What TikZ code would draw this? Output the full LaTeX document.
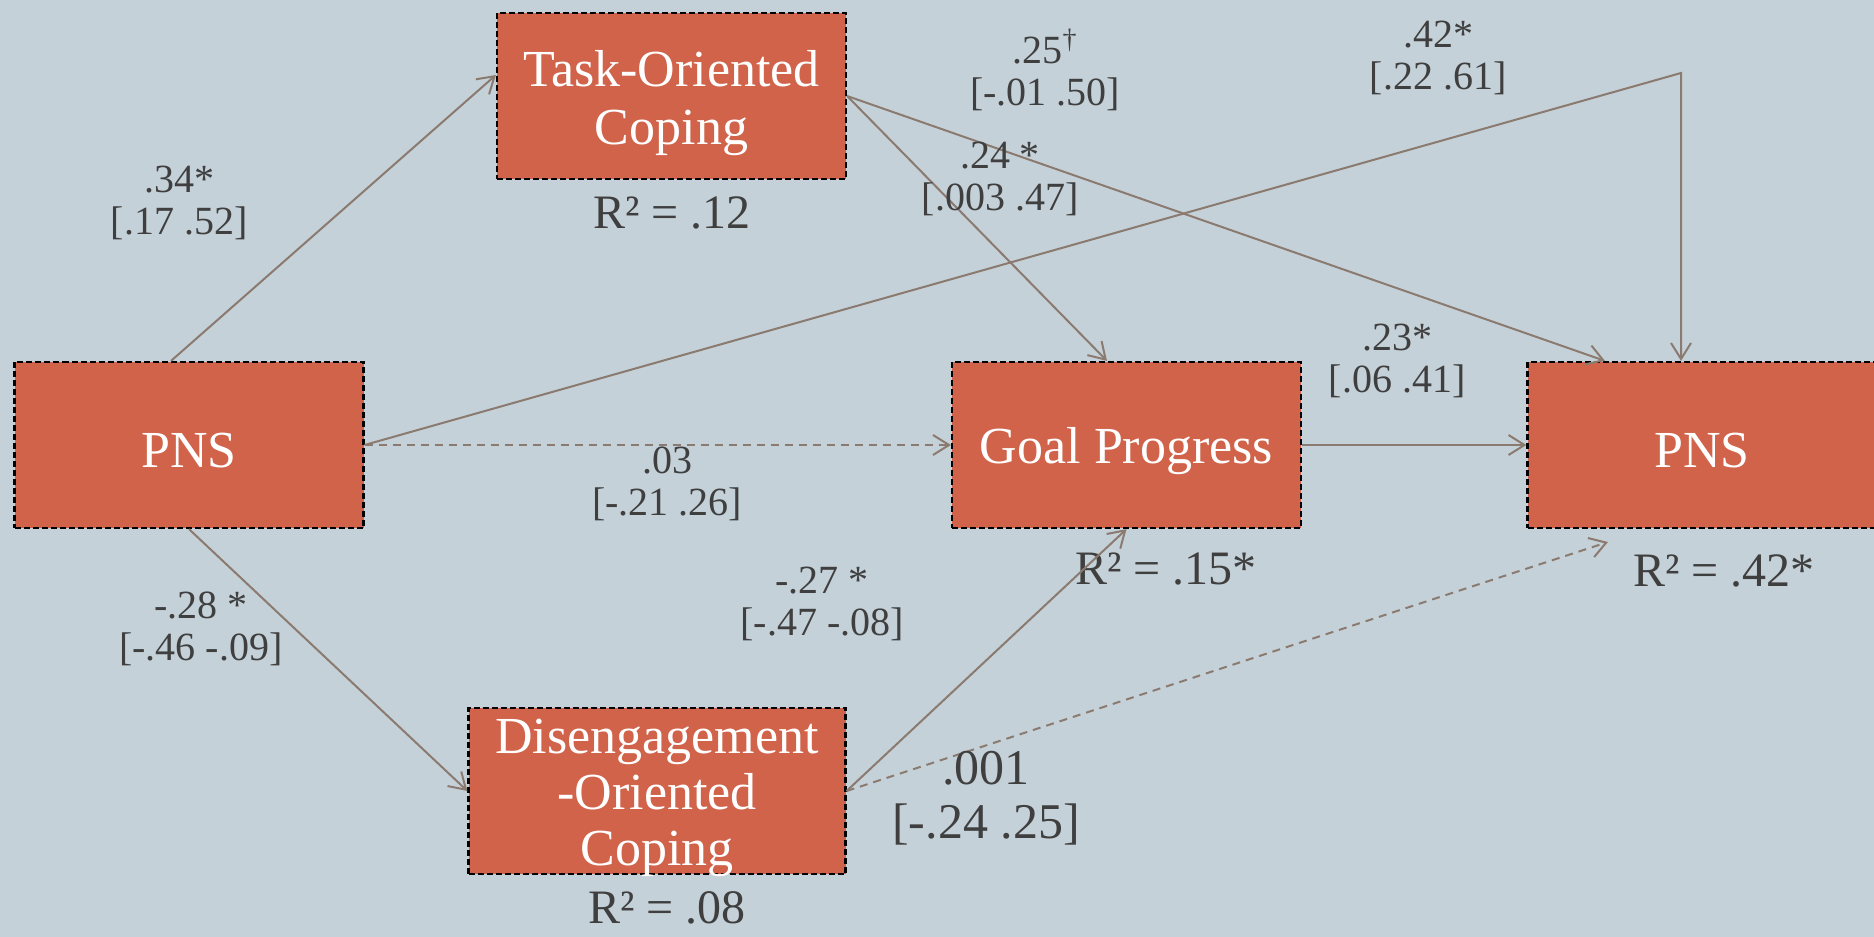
\documentclass[tikz,border=0pt]{standalone}
\usepackage{fontspec}
\setmainfont{Liberation Serif}
\usetikzlibrary{arrows.meta,calc}
\definecolor{bgc}{HTML}{C5D1D8}
\definecolor{boxc}{HTML}{D0634A}
\definecolor{linkc}{HTML}{8A7A70}
\definecolor{labelc}{HTML}{3F3F3F}
\begin{document}
\begin{tikzpicture}[x=0.5pt,y=-0.5pt,
  varbox/.style={draw=black, fill=boxc, line width=1.1pt, dash pattern=on 3pt off 1.5pt,
    minimum width=174.5pt, minimum height=83pt, inner sep=0pt},
  boxtext/.style={text=white, align=center, inner sep=0pt, yshift=-3pt,
    font=\fontsize{26}{29}\selectfont},
  link/.style={draw=linkc, line width=1pt, -{Straight Barb[length=8pt,width=10pt]}},
  dashedlink/.style={link, dash pattern=on 4pt off 3pt},
  coef/.style={text=labelc, align=center, font=\fontsize{20}{21}\selectfont},
  bigcoef/.style={text=labelc, align=center, font=\fontsize{25}{27}\selectfont},
  rsq/.style={text=labelc, font=\fontsize{24}{28}\selectfont}
]
% canvas
\fill[bgc] (0,0) rectangle (1874,937);
\useasboundingbox (0,0) rectangle (1874,937);

% variables
\node[varbox, label={[boxtext]center:PNS}] (pnsL) at (189,445) {};
\node[varbox, label={[boxtext, yshift=-0.5pt]center:Task-Oriented\\Coping}] (task) at (671.5,96) {};
\node[varbox, minimum width=188.5pt,
  label={[boxtext, yshift=-0.5pt, font=\fontsize{26}{28}\selectfont]center:Disengagement\\-Oriented\\Coping}]
  (dis) at (657,791) {};
\node[varbox, label={[boxtext]center:Goal Progress}] (gp) at (1126.5,445) {};
\node[varbox, label={[boxtext]center:PNS}] (pnsR) at (1702,445) {};

% explained variance
\node[rsq] (r1) at (672,213) {R² = .12};
\node[rsq] (r2) at (667,908) {R² = .08};
\node[rsq] (r3) at (1166,569) {R² = .15*};
\node[rsq] (r4) at (1724,571) {R² = .42*};

% paths
\coordinate (corner) at (1681,73);
\coordinate (loose) at (1608,542);
\draw[link] ([xshift=-9pt]pnsL.north) -- ([yshift=10.5pt]task.west);
\draw[link] (pnsL.south) -- (dis.west);
\draw[dashedlink] (pnsL.east) -- (gp.west);
\draw[link] (pnsL.east) -- (corner) -- (corner |- pnsR.north);
\draw[link] (task.east) -- ([xshift=-9.75pt]gp.north);
\draw[link] (task.east) -- ([xshift=-48.5pt]pnsR.north);
\draw[link] (gp.east) -- (pnsR.west);
\draw[link] (dis.east) -- (gp.south);
\draw[dashedlink] (dis.east) -- (loose);

% coefficients
\node[coef] (c1) at (179,203) {.34*\\{[}.17 .52{]}};
\node[coef] (c2) at (1045,70) {.25\textsuperscript{†}\\{[}-.01 .50{]}};
\node[coef] (c3) at (1438,58) {.42*\\{[}.22 .61{]}};
\node[coef] (c4) at (1000,179) {.24 *\\{[}.003 .47{]}};
\node[coef] (c5) at (1397,361) {.23*\\{[}.06 .41{]}};
\node[coef] (c6) at (667,484) {.03\\{[}-.21 .26{]}};
\node[coef] (c7) at (201,629) {-.28 *\\{[}-.46 -.09{]}};
\node[coef] (c8) at (822,604) {-.27 *\\{[}-.47 -.08{]}};
\node[bigcoef] (c9) at (986,798) {.001\\{[}-.24 .25{]}};
\end{tikzpicture}
\end{document}
